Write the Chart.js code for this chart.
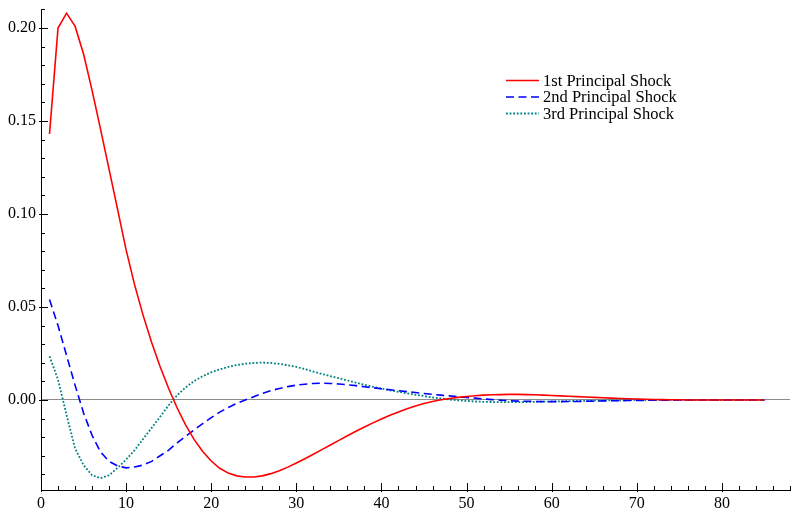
<!DOCTYPE html>
<html>
<head>
<meta charset="utf-8">
<script src="https://cdn.jsdelivr.net/npm/chart.js@4/dist/chart.umd.min.js"></script>
<style>
  html, body { margin: 0; padding: 0; background: #fff; }
  #wrap { width: 792px; height: 512px; }
</style>
</head>
<body>
<div id="wrap"><canvas id="irf"></canvas></div>
<script>
const horizons = [1, 2, 3, 4, 5, 6, 7, 8, 9, 10, 11, 12, 13, 14, 15, 16, 17, 18, 19, 20,
    21, 22, 23, 24, 25, 26, 27, 28, 29, 30, 31, 32, 33, 34, 35, 36, 37, 38, 39, 40,
    41, 42, 43, 44, 45, 46, 47, 48, 49, 50, 51, 52, 53, 54, 55, 56, 57, 58, 59, 60,
    61, 62, 63, 64, 65, 66, 67, 68, 69, 70, 71, 72, 73, 74, 75, 76, 77, 78, 79, 80,
    81, 82, 83, 84, 85];

const shock1 = [0.143, 0.200, 0.208, 0.201, 0.186, 0.1665, 0.1455, 0.124, 0.1025, 0.0807,
    0.0619, 0.0455, 0.0309, 0.0179, 0.0062, -0.0043, -0.0135, -0.0213, -0.0277, -0.0328,
    -0.0367, -0.0393, -0.0408, -0.0414, -0.0414, -0.0408, -0.0396, -0.038, -0.0361, -0.0339,
    -0.0316, -0.0292, -0.0267, -0.0242, -0.0217, -0.0192, -0.0168, -0.0145, -0.0123, -0.0102,
    -0.0082, -0.0064, -0.0047, -0.0032, -0.0019, -0.0008, 0.0001, 0.0008, 0.0014, 0.0019,
    0.0023, 0.0026, 0.0028, 0.0029, 0.003, 0.003, 0.0029, 0.0028, 0.0026, 0.0024,
    0.0022, 0.002, 0.0018, 0.0016, 0.0014, 0.0012, 0.001, 0.0008, 0.0007, 0.0005,
    0.0004, 0.0003, 0.0002, 0.0001, 0.0001, 0.0, 0.0, 0.0, 0.0, 0.0,
    0.0, 0.0, 0.0, 0.0, 0.0];

const shock2 = [0.054, 0.040, 0.024, 0.008, -0.007, -0.019, -0.028, -0.033, -0.0355, -0.0365,
    -0.036, -0.035, -0.033, -0.030, -0.027, -0.023, -0.0195, -0.016, -0.0127, -0.0095,
    -0.0065, -0.004, -0.0018, 0.0, 0.0018, 0.0035, 0.005, 0.0062, 0.0072, 0.008,
    0.0085, 0.0089, 0.009, 0.0089, 0.0086, 0.0082, 0.0077, 0.0071, 0.0066, 0.006,
    0.0055, 0.005, 0.0045, 0.004, 0.0035, 0.003, 0.0026, 0.0022, 0.0018, 0.0014,
    0.001, 0.0006, 0.0002, -0.0001, -0.0004, -0.0006, -0.0007, -0.0008, -0.0009, -0.0009,
    -0.0009, -0.0008, -0.0008, -0.0007, -0.0006, -0.0005, -0.0004, -0.0004, -0.0003, -0.0002,
    -0.0002, -0.0001, -0.0001, -0.0001, 0.0, 0.0, 0.0, 0.0, 0.0, 0.0,
    0.0, 0.0, 0.0, 0.0, 0.0];

const shock3 = [0.0235, 0.011, -0.008, -0.026, -0.035, -0.0405, -0.042, -0.0405, -0.0365, -0.032,
    -0.027, -0.021, -0.015, -0.009, -0.0028, 0.0025, 0.0068, 0.0102, 0.0128, 0.0149,
    0.0165, 0.0178, 0.0188, 0.0195, 0.0199, 0.0201, 0.0199, 0.0194, 0.0187, 0.0178,
    0.0166, 0.0153, 0.014, 0.0128, 0.0117, 0.0105, 0.0093, 0.0082, 0.0071, 0.0061,
    0.0052, 0.0044, 0.0036, 0.0028, 0.0021, 0.0014, 0.0008, 0.0002, -0.0002, -0.0005,
    -0.0008, -0.001, -0.0011, -0.0012, -0.0012, -0.0012, -0.0011, -0.001, -0.0009, -0.0008,
    -0.0007, -0.0006, -0.0005, -0.0004, -0.0003, -0.0003, -0.0002, -0.0002, -0.0001, -0.0001,
    0.0, 0.0, 0.0, 0.0, 0.0, 0.0, 0.0, 0.0, 0.0, 0.0,
    0.0, 0.0, 0.0, 0.0, 0.0];

const seriesNames = ['1st Principal Shock', '2nd Principal Shock', '3rd Principal Shock'];
const yTickLabels = [0.00, 0.05, 0.10, 0.15, 0.20];
const xTickLabels = [0, 10, 20, 30, 40, 50, 60, 70, 80];

const serif = '"Liberation Serif", "DejaVu Serif", serif';

const toPoints = vals => vals.map((v, i) => ({ x: horizons[i], y: v }));

// minor/major tick marks pointing into the plot, like the original
const tickMarks = {
    id: 'tickMarks',
    afterDraw(chart) {
        const { ctx, scales: { x, y } } = chart;
        ctx.save();
        ctx.strokeStyle = '#000';
        ctx.lineWidth = 1;
        ctx.beginPath();
        for (let i = -4; i <= 21; i++) {
            const py = Math.round(y.getPixelForValue(i / 100)) + 0.5;
            const major = i % 5 === 0;
            ctx.moveTo(x.left - (major ? 2 : 0), py);
            ctx.lineTo(x.left + (major ? 7 : 4), py);
        }
        for (let i = 0; i <= 88; i += 2) {
            const px = Math.round(x.getPixelForValue(i)) + 0.5;
            const major = i % 10 === 0;
            ctx.moveTo(px, y.bottom + (major ? 2 : 0));
            ctx.lineTo(px, y.bottom - (major ? 7 : 4));
        }
        ctx.stroke();
        ctx.restore();
    }
};

const lineLegend = {
    id: 'lineLegend',
    afterDraw(chart) {
        const ctx = chart.ctx;
        ctx.save();
        ctx.font = '16.5px ' + serif;
        ctx.textBaseline = 'middle';
        ctx.fillStyle = '#000';
        chart.data.datasets.forEach((ds, i) => {
            const cy = 80.5 + i * 16.5;
            ctx.strokeStyle = ds.borderColor;
            ctx.lineWidth = ds.borderWidth;
            ctx.setLineDash(ds.borderDash || []);
            ctx.beginPath();
            ctx.moveTo(506, cy);
            ctx.lineTo(539, cy);
            ctx.stroke();
            ctx.setLineDash([]);
            ctx.fillText(ds.label, 543, cy + 1);
        });
        ctx.restore();
    }
};

new Chart(document.getElementById('irf'), {
    type: 'line',
    data: {
        datasets: [
            {
                label: seriesNames[0],
                data: toPoints(shock1),
                borderColor: '#ff0000',
                borderWidth: 1.6,
                pointRadius: 0,
                tension: 0
            },
            {
                label: seriesNames[1],
                data: toPoints(shock2),
                borderColor: '#0000ff',
                borderWidth: 1.6,
                borderDash: [8, 4.5],
                pointRadius: 0,
                tension: 0
            },
            {
                label: seriesNames[2],
                data: toPoints(shock3),
                borderColor: '#008080',
                borderWidth: 1.8,
                borderDash: [1.8, 1.8],
                pointRadius: 0,
                tension: 0
            }
        ]
    },
    options: {
        responsive: true,
        maintainAspectRatio: false,
        animation: false,
        layout: { padding: { top: 10, right: 2, left: 0, bottom: 0 } },
        plugins: {
            legend: { display: false },
            tooltip: { enabled: false }
        },
        scales: {
            x: {
                type: 'linear',
                min: 0,
                max: 88,
                afterFit: s => {
                    s.height = 22;
                    s.paddingLeft = 0;
                    s.paddingRight = 0;
                },
                afterBuildTicks: s => { s.ticks = xTickLabels.map(v => ({ value: v })); },
                ticks: {
                    padding: 4,
                    maxRotation: 0,
                    color: '#000',
                    font: { family: serif, size: 16 },
                    callback: v => String(v)
                },
                grid: { display: false, drawTicks: false },
                border: { display: true, color: '#000', width: 1 }
            },
            y: {
                type: 'linear',
                min: -0.0484,
                max: 0.2097,
                afterFit: s => {
                    s.width = 41;
                    s.paddingTop = 0;
                    s.paddingBottom = 0;
                },
                afterBuildTicks: s => { s.ticks = yTickLabels.map(v => ({ value: v })); },
                ticks: {
                    padding: 5,
                    color: '#000',
                    font: { family: serif, size: 16 },
                    callback: v => v.toFixed(2)
                },
                grid: {
                    drawTicks: false,
                    color: c => (c.tick && Math.abs(c.tick.value) < 1e-9) ? '#8c8c8c' : 'rgba(0,0,0,0)',
                    lineWidth: 1
                },
                border: { display: true, color: '#000', width: 1 }
            }
        }
    },
    plugins: [tickMarks, lineLegend]
});
</script>
</body>
</html>
